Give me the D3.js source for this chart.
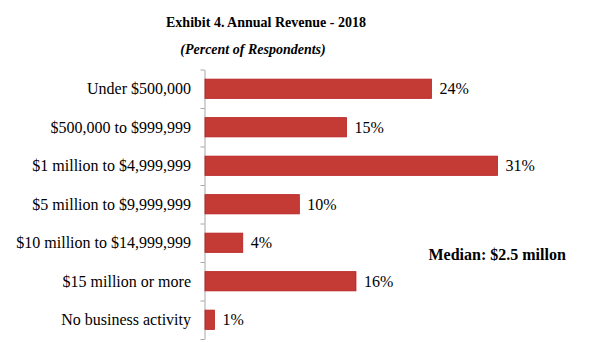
<!DOCTYPE html>
<html>
<head>
<meta charset="utf-8">
<script src="https://cdn.jsdelivr.net/npm/d3@7"></script>
<style>
  html, body { margin: 0; padding: 0; background: #fff; }
  svg { display: block; }
  svg text { font-family: "Liberation Serif", "Times New Roman", Times, "DejaVu Serif", serif; }
</style>
</head>
<body>
<svg id="chart" width="592" height="342"></svg>
<script>
// revenue brackets, top to bottom
const categories = [
  "Under $500,000",
  "$500,000 to $999,999",
  "$1 million to $4,999,999",
  "$5 million to $9,999,999",
  "$10 million to $14,999,999",
  "$15 million or more",
  "No business activity"
];
const percents = [24, 15, 31, 10, 4, 16, 1];
const title = "Exhibit 4. Annual Revenue - 2018";
const subtitle = "(Percent of Respondents)";
const note = "Median: $2.5 millon";

const svg = d3.select("#chart");

const axisX = 204.5;
const plotTop = 69.5, plotBottom = 339;

const x = d3.scaleLinear().domain([0, 31]).range([axisX + 0.5, 497.5]);
const y = d3.scaleBand()
  .domain(categories)
  .range([plotTop, plotBottom])
  .paddingInner(0.5)
  .paddingOuter(0.25);

// titles
svg.append("text")
  .attr("x", 266).attr("y", 26.5)
  .attr("text-anchor", "middle")
  .attr("font-size", 14).attr("font-weight", "bold")
  .attr("fill", "#000")
  .text(title);

svg.append("text")
  .attr("x", 253).attr("y", 54)
  .attr("text-anchor", "middle")
  .attr("font-size", 14).attr("font-weight", "bold").attr("font-style", "italic")
  .attr("fill", "#000")
  .text(subtitle);

// category axis: ticks sit between the bars
const edges = d3.scaleLinear().domain([0, categories.length]).range([plotTop, plotBottom]);
const g_axis = svg.append("g")
  .attr("transform", `translate(${axisX},0)`)
  .call(d3.axisLeft(edges)
    .tickValues(d3.range(categories.length + 1))
    .tickFormat("")
    .tickSizeInner(4)
    .tickSizeOuter(0));
g_axis.selectAll("path, line").attr("stroke", "#a6a6a6");

const rows = categories.map((c, i) => ({ cat: c, value: percents[i] }));

// bars
svg.append("g").selectAll("rect")
  .data(rows)
  .join("rect")
  .attr("x", x(0))
  .attr("y", d => y(d.cat))
  .attr("width", d => x(d.value) - x(0))
  .attr("height", y.bandwidth())
  .attr("fill", "#c43a35")
  .attr("stroke", "#b8201f")
  .attr("stroke-width", 0.8);

// category labels
svg.append("g").selectAll("text")
  .data(rows)
  .join("text")
  .attr("x", 191)
  .attr("y", d => y(d.cat) + y.bandwidth() / 2)
  .attr("dy", "0.35em")
  .attr("text-anchor", "end")
  .attr("font-size", 16)
  .attr("fill", "#000")
  .text(d => d.cat);

// value labels
svg.append("g").selectAll("text")
  .data(rows)
  .join("text")
  .attr("x", d => x(d.value) + 8)
  .attr("y", d => y(d.cat) + y.bandwidth() / 2)
  .attr("dy", "0.35em")
  .attr("font-size", 16)
  .attr("fill", "#000")
  .text(d => d.value + "%");

svg.append("text")
  .attr("x", 428.5).attr("y", 260)
  .attr("font-size", 16).attr("font-weight", "bold")
  .attr("fill", "#000")
  .text(note);
</script>
</body>
</html>
